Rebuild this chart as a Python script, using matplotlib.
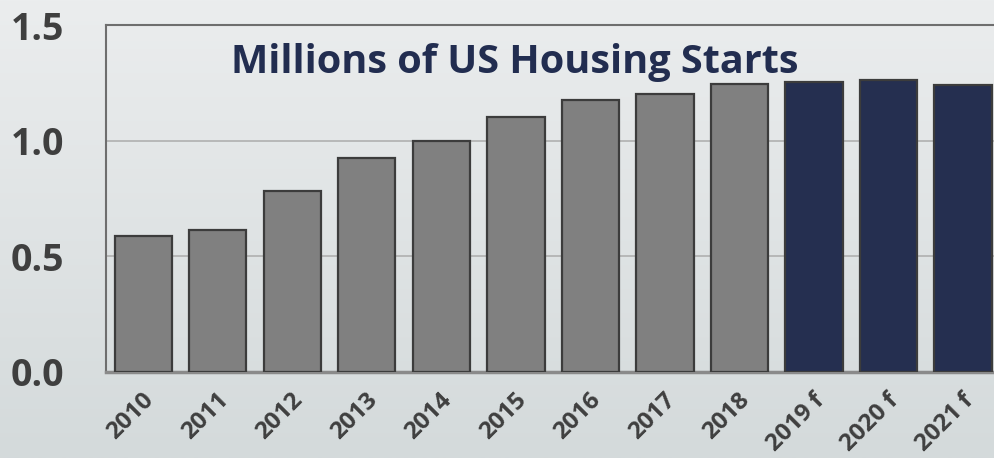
import matplotlib
matplotlib.use("Agg")
import matplotlib.pyplot as plt
import numpy as np
from matplotlib.colors import LinearSegmentedColormap
from matplotlib.transforms import ScaledTranslation

years = ["2010", "2011", "2012", "2013", "2014", "2015", "2016", "2017", "2018",
         "2019 f", "2020 f", "2021 f"]
starts = [0.586, 0.612, 0.784, 0.927, 1.0, 1.103, 1.177, 1.203, 1.246, 1.254, 1.263, 1.241]
is_forecast = [False] * 9 + [True] * 3
yticks = [0.0, 0.5, 1.0, 1.5]
title = "Millions of US Housing Starts"

plt.rcParams['font.family'] = ['Open Sans', 'DejaVu Sans']

fig = plt.figure(figsize=(9.95, 4.58), dpi=100)

# gradient background
bg = fig.add_axes([0, 0, 1, 1], zorder=-1)
cmap = LinearSegmentedColormap.from_list("bg", ["#ebedee", "#d4dadb"])
grad = np.linspace(0, 1, 256).reshape(-1, 1)
bg.imshow(grad, aspect="auto", cmap=cmap, extent=[0, 1, 0, 1])
bg.axis("off")

ax = fig.add_axes([0.1065, 0.1878, 0.8935, 0.7576])
ax.set_facecolor("none")
x = np.arange(len(years))
colors = ["#252f50" if f else "#808080" for f in is_forecast]
ax.bar(x, starts, width=0.77, color=colors, edgecolor="#3c3c3c", linewidth=1.6, zorder=3)

ax.set_xlim(-0.5, 11.43)
ax.set_ylim(0, 1.5)
ax.set_yticks(yticks)
ax.set_yticklabels([f"{v:.1f}" for v in yticks], fontsize=27, fontweight="bold", color="#3f3f3f")
ax.yaxis.grid(True, color="#b0b0b0", linewidth=1.2, zorder=0)
ax.set_xticks(x)
ax.set_xticklabels(years, rotation=45, ha="right", va="center", rotation_mode="anchor",
                   fontsize=17.5, fontweight="bold", color="#3f3f3f")
ax.tick_params(axis="both", length=0)
ax.tick_params(axis="y", pad=30)
ax.tick_params(axis="x", pad=18)
offset = ScaledTranslation(5 / 72, 0, fig.dpi_scale_trans)
for lbl in ax.get_xticklabels():
    lbl.set_transform(lbl.get_transform() + offset)

for s in ["left", "top"]:
    ax.spines[s].set_color("#6e6e6e")
    ax.spines[s].set_linewidth(1.5)
ax.spines["bottom"].set_color("#8a8a8a")
ax.spines["bottom"].set_linewidth(2.5)
ax.spines["right"].set_visible(False)

ax.text(0.46, 0.893, title, transform=ax.transAxes, ha="center", va="center",
        fontsize=28.5, fontweight="bold", color="#222d50")

fig.savefig("out.png", dpi=100)
